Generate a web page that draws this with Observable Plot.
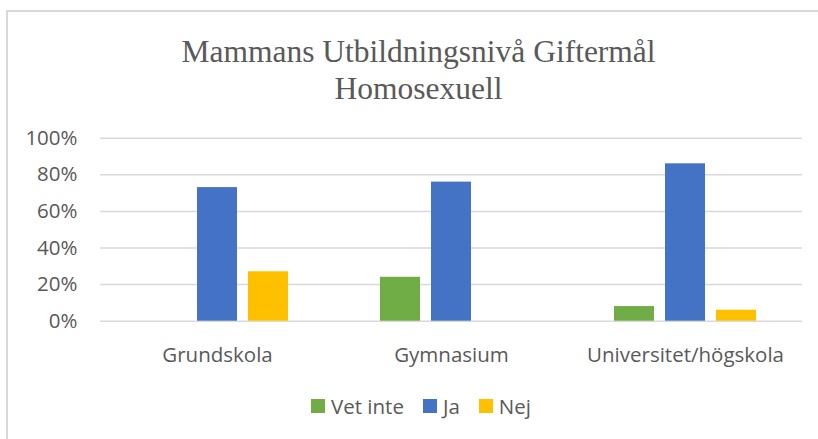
<!DOCTYPE html>
<html>
<head>
<meta charset="utf-8">
<script src="https://cdn.jsdelivr.net/npm/d3@7"></script>
<script src="https://cdn.jsdelivr.net/npm/@observablehq/plot@0.6"></script>
<style>
  html, body { margin: 0; padding: 0; background: #fff; overflow: hidden; }
  #wrap { position: relative; width: 818px; height: 439px; overflow: hidden; background: #fff; }
  #frame { position: absolute; left: 6px; top: 10px; width: 900px; height: 600px; border: 2px solid #d9d9d9; box-sizing: border-box; }
  #title { position: absolute; left: 0; top: 33px; width: 837px; text-align: center; font-family: "Liberation Serif", "Times New Roman", serif; font-size: 31.5px; line-height: 37px; color: #595959; }
  #chart { position: absolute; left: 0; top: 120px; }
  #legend { position: absolute; left: 311px; top: 396px; display: flex; align-items: center; gap: 19px; font-family: "Open Sans", sans-serif; font-size: 20.5px; line-height: 20px; color: #595959; white-space: nowrap; }
  .item { display: flex; align-items: center; }
  .sw { width: 14px; height: 14px; margin-right: 6px; }
</style>
</head>
<body>
<div id="wrap">
  <div id="frame"></div>
  <div id="title">Mammans Utbildningsnivå Giftermål<br>Homosexuell</div>
  <div id="chart"></div>
  <div id="legend"></div>
</div>
<script>
const categories = ["Grundskola", "Gymnasium", "Universitet/högskola"];
const series = ["Vet inte", "Ja", "Nej"];
const vetInte = [0, 24, 8];
const ja = [73, 76, 86];
const nej = [27, 0, 6];
const colors = ["#70AD47", "#4472C4", "#FFC000"];
const yTicks = [0, 20, 40, 60, 80, 100];

const seriesValues = [vetInte, ja, nej];
const data = categories.flatMap((c, i) =>
  series.map((s, j) => ({cat: c, series: s, value: seriesValues[j][i]}))
);

const chart = Plot.plot({
  width: 818,
  height: 260,
  marginTop: 17.7,
  marginBottom: 59.3,
  marginLeft: 100,
  marginRight: 16,
  style: {fontFamily: "'Open Sans', sans-serif", fontSize: "20.5px", color: "#595959", background: "transparent", overflow: "visible"},
  fx: {domain: categories, padding: 0, label: null},
  x: {domain: series, paddingInner: 0.2115, paddingOuter: 0.856, axis: null},
  y: {domain: [0, 100], label: null},
  color: {domain: series, range: colors},
  marks: [
    Plot.gridY(yTicks, {stroke: "#d9d9d9", strokeOpacity: 1, strokeWidth: 1.5}),
    Plot.barY(data, {fx: "cat", x: "series", y: "value", fill: "series"}),
    Plot.axisY(yTicks, {tickSize: 0, tickPadding: 23, tickFormat: d => d + "%", label: null}),
    Plot.axisFx({anchor: "bottom", tickSize: 0, tickPadding: 26, label: null})
  ]
});
document.getElementById("chart").appendChild(chart);

const legend = document.getElementById("legend");
series.forEach((s, i) => {
  const item = document.createElement("div");
  item.className = "item";
  const sw = document.createElement("div");
  sw.className = "sw";
  sw.style.background = colors[i];
  const label = document.createElement("span");
  label.textContent = s;
  item.appendChild(sw);
  item.appendChild(label);
  legend.appendChild(item);
});
</script>
</body>
</html>
